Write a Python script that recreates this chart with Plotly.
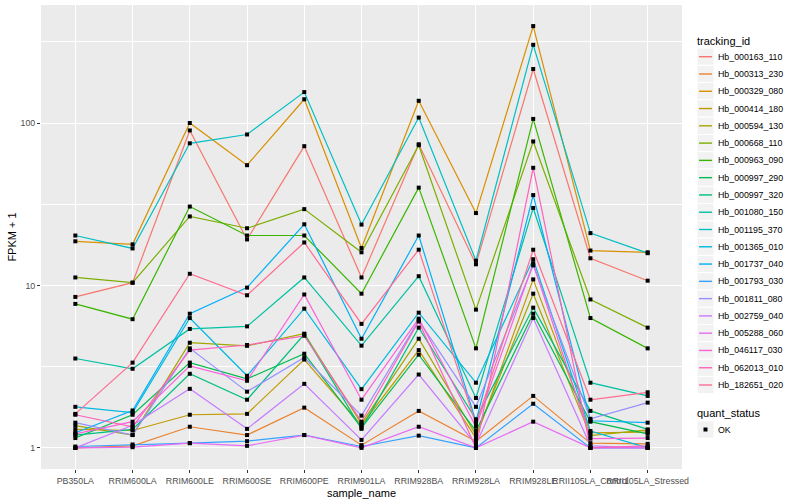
import plotly.graph_objects as go
import numpy as np

samples = ["PB350LA", "RRIM600LA", "RRIM600LE", "RRIM600SE", "RRIM600PE", "RRIM901LA",
           "RRIM928BA", "RRIM928LA", "RRIM928LE", "RRII105LA_Control", "RRII105LA_Stressed"]

tracking_ids = ["Hb_000163_110", "Hb_000313_230", "Hb_000329_080", "Hb_000414_180",
                "Hb_000594_130", "Hb_000668_110", "Hb_000963_090", "Hb_000997_290",
                "Hb_000997_320", "Hb_001080_150", "Hb_001195_370", "Hb_001365_010",
                "Hb_001737_040", "Hb_001793_030", "Hb_001811_080", "Hb_002759_040",
                "Hb_005288_060", "Hb_046117_030", "Hb_062013_010", "Hb_182651_020"]

colors = ["#F8766D", "#EA8331", "#D89000", "#C09B00", "#A3A500", "#7CAE00", "#39B600",
          "#00BB4E", "#00BF7D", "#00C1A3", "#00BFC4", "#00BAE0", "#00B0F6", "#35A2FF",
          "#9590FF", "#C77CFF", "#E76BF3", "#FA62DB", "#FF62BC", "#FF6C91"]

# FPKM + 1 per tracking id, in sample order
Hb_000163_110 = [8.5, 10.4, 90, 19.2, 72, 11.2, 74, 13.5, 215, 14.7, 10.7]
Hb_000313_230 = [1.0, 1.03, 1.35, 1.2, 1.77, 1.04, 1.69, 1.1, 2.09, 1.07, 1.06]
Hb_000329_080 = [18.7, 17.9, 100, 55, 140, 17, 137, 27.9, 395, 16.4, 16]
Hb_000414_180 = [1.3, 1.28, 1.6, 1.62, 3.5, 1.38, 4.0, 1.15, 10.9, 1.24, 1.25]
Hb_000594_130 = [1.37, 1.2, 4.44, 4.25, 5.05, 1.41, 4.7, 1.2, 8.9, 1.19, 1.29]
Hb_000668_110 = [11.2, 10.4, 26.6, 22.5, 29.5, 16, 73, 7.1, 77, 8.2, 5.5]
Hb_000963_090 = [7.7, 6.2, 30.6, 20.3, 20.3, 8.9, 40, 4.1, 106, 6.3, 4.1]
Hb_000997_290 = [1.15, 1.6, 3.35, 2.66, 3.8, 1.33, 3.75, 1.27, 6.7, 1.45, 1.22]
Hb_000997_320 = [1.2, 1.3, 2.86, 1.98, 5.0, 1.31, 5.5, 1.5, 7.3, 1.69, 1.3]
Hb_001080_150 = [3.55, 3.07, 5.4, 5.6, 11.2, 4.26, 11.4, 2.03, 30, 2.52, 2.09]
Hb_001195_370 = [20.3, 16.9, 75, 85, 155, 23.7, 108, 14.2, 303, 21, 15.8]
Hb_001365_010 = [1.79, 1.65, 6.3, 2.78, 7.2, 2.3, 6.8, 2.52, 14.5, 1.27, 1.0]
Hb_001737_040 = [1.24, 1.7, 6.7, 9.7, 23.8, 4.7, 20.3, 1.45, 36, 1.47, 1.43]
Hb_001793_030 = [1.02, 1.05, 1.07, 1.1, 1.2, 1.02, 1.19, 1.0, 1.87, 1.0, 1.0]
Hb_001811_080 = [1.43, 1.2, 4.1, 2.22, 3.6, 1.58, 6.1, 1.79, 13.3, 1.51, 1.9]
Hb_002759_040 = [1.0, 1.38, 2.31, 1.31, 2.48, 1.12, 2.83, 1.05, 6.3, 1.03, 1.0]
Hb_005288_060 = [1.0, 1.01, 1.07, 1.03, 1.2, 1.0, 1.35, 1.0, 1.45, 1.0, 1.0]
Hb_046117_030 = [1.22, 1.45, 3.2, 2.59, 8.8, 1.98, 6.25, 1.35, 13.7, 1.14, 1.15]
Hb_062013_010 = [1.6, 1.35, 4.0, 4.3, 4.9, 1.45, 6.0, 1.0, 53, 1.0, 1.03]
Hb_182651_020 = [1.62, 3.35, 11.8, 8.7, 18.4, 5.8, 16.6, 1.4, 16.6, 1.98, 2.2]

series = [Hb_000163_110, Hb_000313_230, Hb_000329_080, Hb_000414_180, Hb_000594_130,
          Hb_000668_110, Hb_000963_090, Hb_000997_290, Hb_000997_320, Hb_001080_150,
          Hb_001195_370, Hb_001365_010, Hb_001737_040, Hb_001793_030, Hb_001811_080,
          Hb_002759_040, Hb_005288_060, Hb_046117_030, Hb_062013_010, Hb_182651_020]

quant_status = ["OK"]
y_ticks = [1, 10, 100]

fig = go.Figure()
for name, vals, col in zip(tracking_ids, series, colors):
    fig.add_trace(go.Scatter(x=samples, y=vals, mode="lines", name=name,
                             line=dict(color=col, width=1.2), showlegend=False))

all_x = [s for vals in series for s in samples]
all_y = [v for vals in series for v in vals]
fig.add_trace(go.Scatter(x=all_x, y=all_y, mode="markers", name=quant_status[0],
                         marker=dict(symbol="square", size=4, color="black"),
                         showlegend=False))

# ggplot-like 5% expansion on log scale
lo = np.log10(min(all_y)); hi = np.log10(max(all_y))
pad = 0.05 * (hi - lo)

L, R, T, B = 41, 682, 5, 469
W, H = R - L, B - T
def px(x): return (x - L) / W
def py(y): return 1 - (y - T) / H

shapes = []
annotations = []
FONT = "Liberation Sans, Arial, sans-serif"
annotations.append(dict(x=px(695), y=py(40.7), xref="paper", yref="paper", text="tracking_id",
                        showarrow=False, xanchor="left", yanchor="middle",
                        font=dict(size=11, color="black", family=FONT)))
for k, (name, col) in enumerate(zip(tracking_ids, colors)):
    c = 56.7 + 17.28 * k
    shapes.append(dict(type="rect", xref="paper", yref="paper", x0=px(697), x1=px(714),
                       y0=py(c - 8.64), y1=py(c + 8.64), fillcolor="#F2F2F2",
                       line=dict(color="white", width=1), layer="below"))
    shapes.append(dict(type="line", xref="paper", yref="paper", x0=px(699), x1=px(712),
                       y0=py(c), y1=py(c), line=dict(color=col, width=1.4)))
    annotations.append(dict(x=px(716), y=py(c), xref="paper", yref="paper", text=name,
                            showarrow=False, xanchor="left", yanchor="middle",
                            font=dict(size=8.8, color="black", family=FONT)))

annotations.append(dict(x=px(695), y=py(412.7), xref="paper", yref="paper", text="quant_status",
                        showarrow=False, xanchor="left", yanchor="middle",
                        font=dict(size=11, color="black", family=FONT)))
c = 429.5
shapes.append(dict(type="rect", xref="paper", yref="paper", x0=px(697), x1=px(714),
                   y0=py(c - 8.64), y1=py(c + 8.64), fillcolor="#F2F2F2",
                   line=dict(color="white", width=1), layer="below"))
shapes.append(dict(type="rect", xref="paper", yref="paper", x0=px(703.5), x1=px(707.5),
                   y0=py(c - 2), y1=py(c + 2), fillcolor="black", line=dict(width=0)))
annotations.append(dict(x=px(716), y=py(c), xref="paper", yref="paper", text=quant_status[0],
                        showarrow=False, xanchor="left", yanchor="middle",
                        font=dict(size=8.8, color="black", family=FONT)))

fig.update_layout(
    width=800, height=500,
    margin=dict(l=L, r=800 - R, t=T, b=500 - B, pad=0),
    paper_bgcolor="white", plot_bgcolor="#EBEBEB",
    font=dict(family=FONT, size=11, color="black"),
    shapes=shapes, annotations=annotations, showlegend=False,
)
fig.update_xaxes(
    type="category", categoryorder="array", categoryarray=samples,
    range=[-0.6, len(samples) - 1 + 0.6], automargin=False,
    showgrid=True, gridcolor="white", gridwidth=1.2, zeroline=False, showline=False,
    ticks="outside", ticklen=3, tickcolor="#333333", tickwidth=1, tickangle=0,
    tickfont=dict(size=8.8, color="#4D4D4D"),
    title=dict(text="sample_name", font=dict(size=11, color="black"), standoff=4),
)
fig.update_yaxes(
    type="log", range=[lo - pad, hi + pad], automargin=False,
    tickvals=y_ticks, ticktext=[str(t) for t in y_ticks],
    showgrid=True, gridcolor="white", gridwidth=1.2, zeroline=False, showline=False,
    ticks="outside", ticklen=3, tickcolor="#333333", tickwidth=1,
    tickfont=dict(size=8.8, color="#4D4D4D"),
    minor=dict(tickvals=[10 ** 0.5, 10 ** 1.5, 10 ** 2.5], showgrid=True,
               gridcolor="white", gridwidth=0.6, ticks=""),
    title=dict(text="FPKM + 1", font=dict(size=11, color="black"), standoff=1),
)

fig.write_html("out.html", config={"displayModeBar": False},
               post_script="document.body.style.margin='0';document.body.style.padding='0';")
